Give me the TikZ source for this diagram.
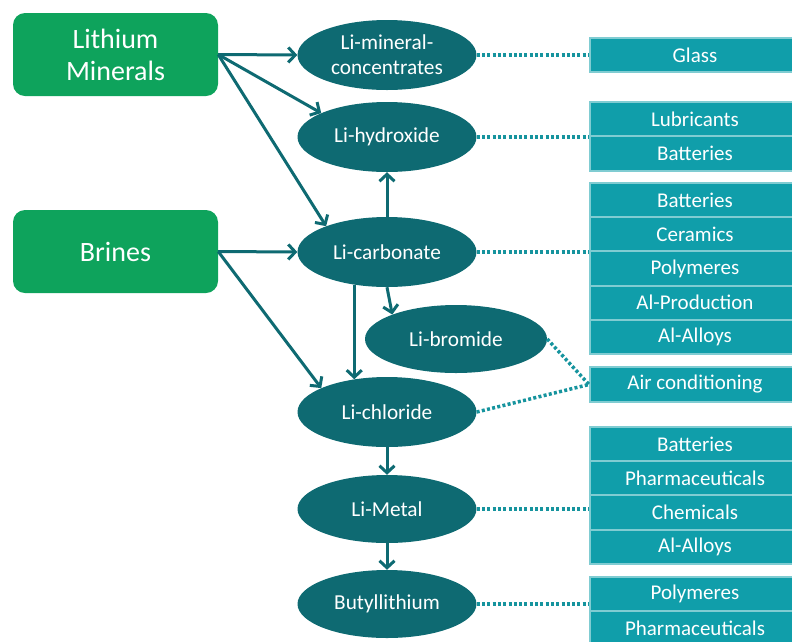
\documentclass[tikz,border=0pt]{standalone}
\usepackage{fontspec}
\setmainfont{Carlito}
\usetikzlibrary{shapes.geometric,arrows.meta,calc}
\definecolor{srcgreen}{RGB}{14,163,92}
\definecolor{prodteal}{RGB}{14,106,114}
\definecolor{usefill}{RGB}{16,158,170}
\definecolor{useedge}{RGB}{128,204,210}
\definecolor{dotteal}{RGB}{22,148,158}

\begin{document}
\begin{tikzpicture}[x=1pt,y=-1pt,
  source/.style={rectangle, rounded corners=12pt, fill=srcgreen, text=white,
    minimum width=205pt, minimum height=83pt, inner sep=0pt, align=center,
    font=\fontsize{28}{32}\selectfont},
  product/.style={ellipse, fill=prodteal, text=white, minimum width=179pt,
    minimum height=70pt, inner sep=0pt, align=center,
    font=\fontsize{21.3}{25}\selectfont},
  usecell/.style={rectangle, fill=usefill, draw=useedge, line width=2pt,
    text=white, minimum width=210pt, minimum height=34.2pt, inner sep=0pt,
    font=\fontsize{21}{24}\selectfont},
  flow/.style={draw=prodteal, line width=3pt,
    -{Straight Barb[length=7pt,width=15pt]}},
  link/.style={draw=dotteal, line width=3.5pt, dash pattern=on 3pt off 2.3pt}]

\useasboundingbox (0,0) rectangle (792,641);

% raw material sources
\node[source] (min) at (115.5,54.5) {Lithium\\Minerals};
\node[source] (bri) at (115.5,251.5) {Brines};

% lithium compounds
\node[product] (conc) at (387,55)  {Li-mineral-\\concentrates};
\node[product] (hydr) at (387,137) {Li-hydroxide};
\node[product] (carb) at (387,252) {Li-carbonate};
\node[product, minimum width=182pt, minimum height=68pt] (brom) at (456,339) {Li-bromide};
\node[product] (chl)  at (387,412) {Li-chloride};
\node[product, minimum height=68pt] (met)  at (387,509) {Li-Metal};
\node[product, minimum height=68pt] (but)  at (387,604) {Butyllithium};

% applications
\node[usecell] (glass) at (695,55)  {Glass};
\node[usecell] (lub)   at (695,119.5) {Lubricants};
\node[usecell] (bat1)  at (695,153.5) {Batteries};
\node[usecell] (bat2)  at (695,200) {Batteries};
\node[usecell] (cer)   at (695,234.2) {Ceramics};
\node[usecell] (pol1)  at (695,268.4) {Polymeres};
\node[usecell] (alp)   at (695,302.6) {Al-Production};
\node[usecell] (all1)  at (695,336.8) {Al-Alloys};
\node[usecell] (air)   at (695,384.5) {Air conditioning};
\node[usecell] (bat3)  at (695,444) {Batteries};
\node[usecell] (pha1)  at (695,478.2) {Pharmaceuticals};
\node[usecell] (chem)  at (695,512.4) {Chemicals};
\node[usecell] (all2)  at (695,546.6) {Al-Alloys};
\node[usecell] (pol2)  at (695,594) {Polymeres};
\node[usecell] (pha2)  at (695,628.2) {Pharmaceuticals};

% process flows
\draw[flow] (min.east) -- (conc.west);
\draw[flow] (min.east) -- (hydr.160);
\draw[flow] (min.east) -- (carb.157);
\draw[flow] (bri.east) -- (carb.west);
\draw[flow] (bri.east) -- (chl.160);
\draw[flow] (carb.north) -- (hydr.south);
\draw[flow] (carb.south) -- (brom.159);
\draw[flow] (carb.225) -- (chl.135);
\draw[flow] (chl.south) -- (met.north);
\draw[flow] (met.south) -- (but.north);

% links to applications
\draw[link] (conc.east) -- (glass.west);
\draw[link] (hydr.east) -- (hydr.east -| lub.west);
\draw[link] (carb.east) -- (carb.east -| cer.west);
\draw[link] (brom.east) -- (air.west);
\draw[link] (chl.east) -- (air.west);
\draw[link] (met.east) -- (met.east -| chem.west);
\draw[link] (but.east) -- (but.east -| pol2.west);
\end{tikzpicture}
\end{document}
